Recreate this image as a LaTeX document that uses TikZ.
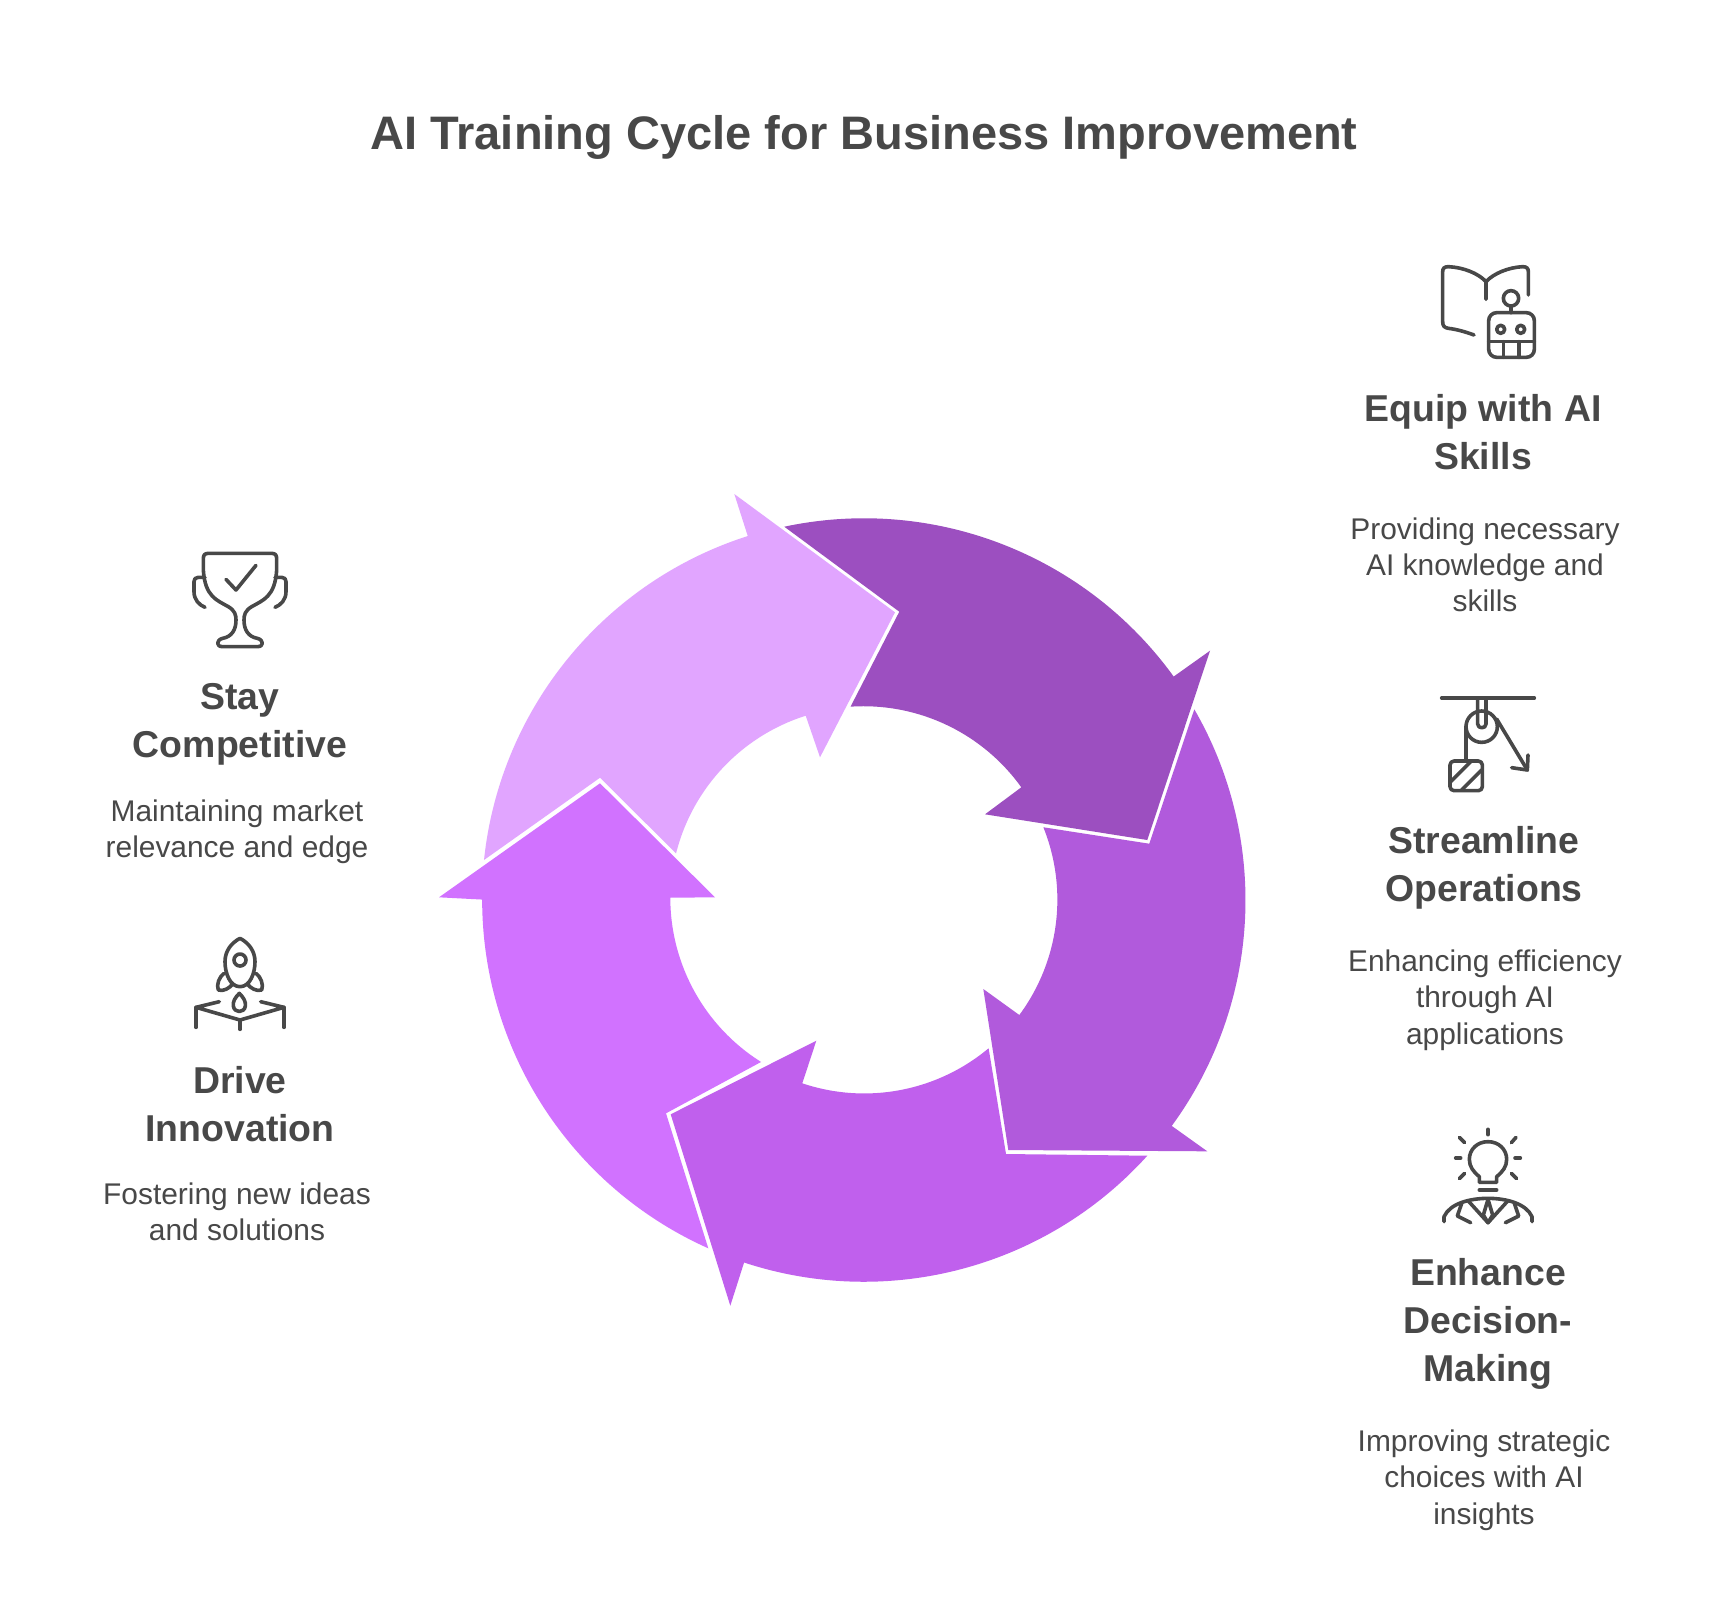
\documentclass[tikz,border=0pt]{standalone}
\usepackage{fontspec}
\setmainfont{Liberation Sans}
\definecolor{ink}{HTML}{484848}
\definecolor{arrowA}{HTML}{E1A5FF}
\definecolor{arrowB}{HTML}{9C4FC0}
\definecolor{arrowC}{HTML}{B15ADC}
\definecolor{arrowD}{HTML}{C060ED}
\definecolor{arrowE}{HTML}{D172FF}
\tikzset{
  headtext/.style={text=ink,align=center,inner sep=0pt,font=\fontsize{37.4}{48}\selectfont\bfseries},
  desctext/.style={text=ink,align=center,inner sep=0pt,font=\fontsize{29.9}{36.3}\selectfont},
  titletext/.style={text=ink,align=center,inner sep=0pt,font=\fontsize{47}{56}\selectfont\bfseries},
  iconline/.style={draw=ink,line width=3.6pt,line cap=round,line join=round,fill=none},
  iconbox/.style={shift={#1},x=0.33333pt,y=-0.33333pt}
}
\begin{document}
\begin{tikzpicture}[x=1pt,y=1pt]
\useasboundingbox (0,0) rectangle (1728,-1596);
\fill[white] (0,0) rectangle (1728,-1596);

% ring arrows
\fill[arrowA] (484,-860) arc[start angle=174,end angle=107.7,radius=382]
  -- (734.3,-494) -- (895,-612.3) -- (820,-757.3) -- (805.7,-715.7)
  arc[start angle=107.55,end angle=165.9,radius=194] -- (600,-777.7) -- cycle;
\fill[arrowB] (784.3,-526.7) arc[start angle=102.05,end angle=35.85,radius=382]
  -- (1210,-650.7) -- (1147.3,-840) -- (985,-814.3) -- (1021.3,-787.3)
  arc[start angle=35.6,end angle=93.85,radius=194] -- (899.3,-611.7) -- cycle;
\fill[arrowC] (1194.3,-709.3) arc[start angle=30,end angle=-36.2,radius=382]
  -- (1207.3,-1151.3) -- (1008.3,-1150) -- (983.3,-989) -- (1019.3,-1015)
  arc[start angle=-36.5,end angle=21.9,radius=194] -- (1149.3,-843.7) -- cycle;
\fill[arrowD] (1147.3,-1155.7) arc[start angle=-42.07,end angle=-108.26,radius=382]
  -- (730.3,-1305.7) -- (670.7,-1114.3) -- (816.3,-1040.7) -- (802.3,-1083.3)
  arc[start angle=-108.6,end angle=-50.1,radius=194] -- (1006,-1154) -- cycle;
\fill[arrowE] (708.3,-1248.3) arc[start angle=245.92,end angle=180,radius=382]
  -- (439,-897.3) -- (600,-783.3) -- (715,-897.3) -- (670.3,-897.7)
  arc[start angle=180,end angle=237.85,radius=194] -- (666,-1113.3) -- cycle;

% texts
\node[titletext] (title) at (864,-137.5) {AI Training Cycle for Business Improvement};
\node[headtext] (h1) at (1483,-432) {Equip with AI\\Skills};
\node[desctext] (d1) at (1485,-565) {Providing necessary\\AI knowledge and\\skills};
\node[headtext] (h2) at (1484,-868) {Streamline\\Operations};
\node[desctext] (d2) at (1485,-1000) {Enhancing efficiency\\through AI\\applications};
\node[headtext] (h3) at (1488,-1324) {Enhance\\Decision-\\Making};
\node[desctext] (d3) at (1484,-1480) {Improving strategic\\choices with AI\\insights};
\node[headtext] (h4) at (240,-724.3) {Stay\\Competitive};
\node[desctext] (d4) at (237,-832) {Maintaining market\\relevance and edge};
\node[headtext] (h5) at (240,-1104) {Drive\\Innovation};
\node[desctext] (d5) at (237,-1212) {Fostering new ideas\\and solutions};

% book and robot icon
\begin{scope}[iconbox={(1400,-240)}]
\draw[iconline] (258,178) -- (258,125) .. controls (235,100) and (190,82) .. (145,80) .. controls (133,80) and (128,85) .. (128,95) -- (128,245) .. controls (128,258) and (133,263) .. (145,265) .. controls (170,268) and (195,275) .. (222,285);
\draw[iconline] (258,125) .. controls (281,100) and (326,82) .. (368,80) .. controls (380,80) and (385,85) .. (385,95) -- (385,165);
\draw[iconline] (333,175) circle[radius=23];
\draw[iconline] (333,198) -- (333,218);
\draw[iconline,rounded corners=8pt] (266,218) rectangle (403,352);
\draw[iconline] (266,305) -- (403,305);
\draw[iconline] (310,305) -- (310,352);
\draw[iconline] (357,305) -- (357,352);
\draw[iconline] (302,268) circle[radius=12];
\draw[iconline] (362,268) circle[radius=12];
\end{scope}

% pulley icon
\begin{scope}[iconbox={(1400,-680)}]
\draw[iconline] (125,54) -- (403,54);
\draw[iconline] (245,140) circle[radius=47];
\draw[iconline] (233,54) -- (233,132) .. controls (233,147) and (258,147) .. (258,132) -- (258,54);
\draw[iconline] (198,140) -- (198,240);
\draw[iconline] (290,117) -- (382,270);
\draw[iconline] (335,263) -- (382,270) -- (384,225);
\draw[iconline,rounded corners=4pt] (150,243) rectangle (247,332);
\draw[iconline] (152,305) -- (212,245);
\draw[iconline] (185,330) -- (245,270);
\end{scope}

% bulb person icon
\begin{scope}[iconbox={(1420,-1120)}]
\draw[iconline] (204,28) -- (204,44);
\draw[iconline] (118,52) -- (134,68);
\draw[iconline] (288,52) -- (274,68);
\draw[iconline] (107,114) -- (122,114);
\draw[iconline] (285,114) -- (301,114);
\draw[iconline] (134,160) -- (118,176);
\draw[iconline] (274,160) -- (290,176);
\draw[iconline] (178,187) -- (178,170) .. controls (160,155) and (148,140) .. (148,118) .. controls (148,88) and (172,65) .. (204,65) .. controls (236,65) and (260,88) .. (260,118) .. controls (260,140) and (248,155) .. (230,170) -- (230,187) -- cycle;
\draw[iconline] (178,210) -- (230,210);
\draw[iconline] (72,305) -- (72,290) .. controls (90,250) and (150,235) .. (204,235) .. controls (258,235) and (318,250) .. (336,290) -- (336,305);
\draw[iconline] (125,250) -- (112,288) -- (152,308);
\draw[iconline] (283,250) -- (296,288) -- (256,308);
\draw[iconline] (145,243) -- (204,308) -- (263,243);
\draw[iconline] (204,238) -- (190,285) -- (204,308) -- (218,285) -- cycle;
\end{scope}

% trophy icon
\begin{scope}[iconbox={(170,-540)}]
\draw[iconline] (115,40) -- (305,40) .. controls (315,40) and (320,45) .. (320,55) -- (320,90) .. controls (315,170) and (280,180) .. (245,200) .. controls (225,212) and (222,225) .. (222,240) .. controls (222,270) and (235,290) .. (262,295) .. controls (282,300) and (282,320) .. (262,320) -- (158,320) .. controls (138,320) and (138,300) .. (158,295) .. controls (185,290) and (198,270) .. (198,240) .. controls (198,225) and (195,212) .. (175,200) .. controls (140,180) and (105,170) .. (100,90) -- (100,55) .. controls (100,45) and (105,40) .. (115,40) -- cycle;
\draw[iconline] (105,112) -- (85,112) .. controls (76,112) and (72,117) .. (72,125) -- (72,155) .. controls (72,180) and (88,195) .. (105,202);
\draw[iconline] (315,112) -- (335,112) .. controls (344,112) and (348,117) .. (348,125) -- (348,155) .. controls (348,180) and (332,195) .. (315,202);
\draw[iconline] (168,118) -- (198,150) -- (258,76);
\end{scope}

% rocket icon
\begin{scope}[iconbox={(170,-930)}]
\draw[iconline] (210,25) .. controls (185,38) and (165,62) .. (165,95) .. controls (165,130) and (180,170) .. (210,170) .. controls (240,170) and (255,130) .. (255,95) .. controls (255,62) and (235,38) .. (210,25) -- cycle;
\draw[iconline] (210,90) circle[radius=18];
\draw[iconline] (162,130) .. controls (148,140) and (138,165) .. (145,180) .. controls (160,185) and (178,175) .. (188,162);
\draw[iconline] (258,130) .. controls (272,140) and (282,165) .. (275,180) .. controls (260,185) and (242,175) .. (232,162);
\draw[iconline] (208,190) .. controls (195,203) and (188,215) .. (190,228) .. controls (193,250) and (223,250) .. (226,228) .. controls (228,215) and (221,203) .. (208,190) -- cycle;
\draw[iconline] (148,215) -- (78,232) -- (210,270) -- (342,232) -- (272,215);
\draw[iconline] (78,232) -- (78,292);
\draw[iconline] (342,232) -- (342,292);
\draw[iconline] (210,270) -- (210,298);
\end{scope}
\end{tikzpicture}
\end{document}
